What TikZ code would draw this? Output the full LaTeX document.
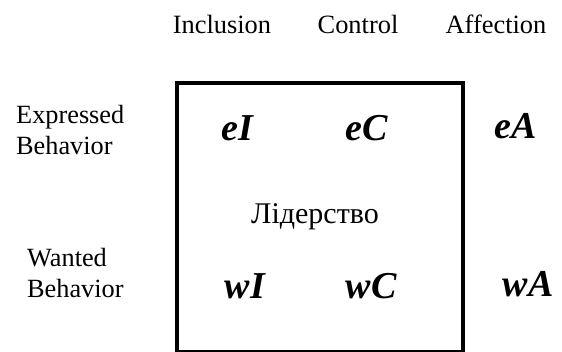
\documentclass[tikz,border=0pt]{standalone}
\usepackage{fontspec}
\setmainfont{Liberation Serif}
\usepackage{xcolor}
\usetikzlibrary{positioning}

\tikzset{
  headlabel/.style={anchor=base, inner sep=0pt, font=\fontsize{26.4}{31.5}\selectfont},
  rowlabel/.style={anchor=base west, inner sep=0pt, align=left, font=\fontsize{26.3}{31.5}\selectfont},
  cell/.style={anchor=base, inner sep=0pt, font=\fontsize{38}{40}\selectfont\bfseries\itshape},
}

\begin{document}
\begin{tikzpicture}[x=1pt, y=-1pt]
  \useasboundingbox (0,0) rectangle (562,352);

  % ============== Column heads ==============
  \node[headlabel] (incl) at (222,34) {Inclusion};
  \node[headlabel] (ctrl) at (358,34) {Control};
  \node[headlabel] (affc) at (496,34) {Affection};

  % ============== Row heads ==============
  \node[rowlabel] (expr) at (16,155) {Expressed\\Behavior};
  \node[rowlabel] (want) at (27,298) {Wanted\\Behavior};

  % Leadership box
  \draw[line width=4.5pt] (177,83) rectangle (463,352);
  \node[headlabel, font=\fontsize{30}{31.5}\selectfont] (lead) at (315,224) {Лідерство};

  % ============== Cells ==============
  \node[cell] (eI) at (237,141) {eI};
  \node[cell] (eC) at (367,141) {eC};
  \node[cell] (eA) at (516,139) {eA};
  \node[cell] (wI) at (245,299) {wI};
  \node[cell] (wC) at (371,299) {wC};
  \node[cell] (wA) at (528,297) {wA};

\end{tikzpicture}
\end{document}
